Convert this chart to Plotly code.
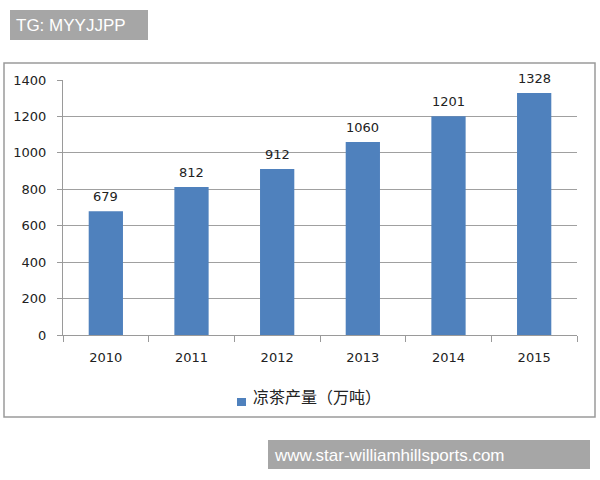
import plotly.graph_objects as go

years = ["2010", "2011", "2012", "2013", "2014", "2015"]
output = [679, 812, 912, 1060, 1201, 1328]
series_name = "凉茶产量（万吨）"
y_ticks = [0, 200, 400, 600, 800, 1000, 1200, 1400]

W, H = 600, 480
L, R, T, B = 63, 577, 80, 335  # plot area pixels

def px(x):
    return (x - L) / (R - L)

def py(y):
    return (B - y) / (B - T)

num_font = dict(family="DejaVu Sans", size=13, color="#222222")
bar_color = "#4f81bd"

fig = go.Figure()
fig.add_trace(go.Bar(
    x=years, y=output, name=series_name,
    marker=dict(color=bar_color, line=dict(width=0)),
    width=0.4, showlegend=False,
))

for i, v in enumerate(output):
    fig.add_annotation(x=i, y=v, text=str(v), showarrow=False,
                       yanchor="bottom", yshift=5, font=num_font)

# legend (drawn to match original placement)
fig.add_shape(type="rect", xref="paper", yref="paper",
              x0=px(237), x1=px(246), y0=py(406), y1=py(398),
              line=dict(width=0), fillcolor=bar_color)
fig.add_annotation(xref="paper", yref="paper", x=px(251), y=py(396), xanchor="left", yanchor="middle",
                   text=series_name, showarrow=False,
                   font=dict(family="Noto Sans CJK SC", size=16, color="#222222"))

# outer chart border
fig.add_shape(type="rect", xref="paper", yref="paper",
              x0=px(4), x1=px(595), y0=py(417), y1=py(63),
              line=dict(color="#9a9a9a", width=1.5), fillcolor="rgba(0,0,0,0)", layer="below")
# watermark boxes
fig.add_shape(type="rect", xref="paper", yref="paper",
              x0=px(10), x1=px(148), y0=py(40), y1=py(10),
              line=dict(width=0), fillcolor="#a6a6a6")
fig.add_annotation(xref="paper", yref="paper", x=px(14), y=py(25), xanchor="left", yanchor="middle",
                   text="TG: MYYJJPP", showarrow=False,
                   font=dict(family="Liberation Sans", size=17, color="white"))
fig.add_shape(type="rect", xref="paper", yref="paper",
              x0=px(268), x1=px(590), y0=py(469), y1=py(440),
              line=dict(width=0), fillcolor="#a6a6a6")
fig.add_annotation(xref="paper", yref="paper", x=px(272), y=py(455), xanchor="left", yanchor="middle",
                   text="www.star-williamhillsports.com", showarrow=False,
                   font=dict(family="Liberation Sans", size=17, color="white"))

fig.update_layout(
    width=W, height=H,
    margin=dict(l=L, r=W - R, t=T, b=H - B, pad=0),
    paper_bgcolor="white", plot_bgcolor="white",
    bargap=0.6,
    showlegend=False,
    xaxis=dict(type="category", range=[-0.5, 5.5], automargin=False,
               showline=True, linecolor="#9a9a9a", linewidth=1,
               ticks="outside", tickson="boundaries", ticklen=6, tickcolor="#9a9a9a",
               tickfont=num_font, ticklabelstandoff=10, tickangle=0, showgrid=False),
    yaxis=dict(range=[0, 1400], tickvals=y_ticks, automargin=False,
               showline=True, linecolor="#9a9a9a", linewidth=1,
               ticks="outside", ticklen=5, tickcolor="#9a9a9a", tickfont=num_font,
               ticklabelstandoff=8, showgrid=True, gridcolor="#a0a0a0", gridwidth=1,
               zeroline=False),
)

fig.write_html("out.html", config={"displayModeBar": False},
               post_script="document.body.style.margin='0';")
